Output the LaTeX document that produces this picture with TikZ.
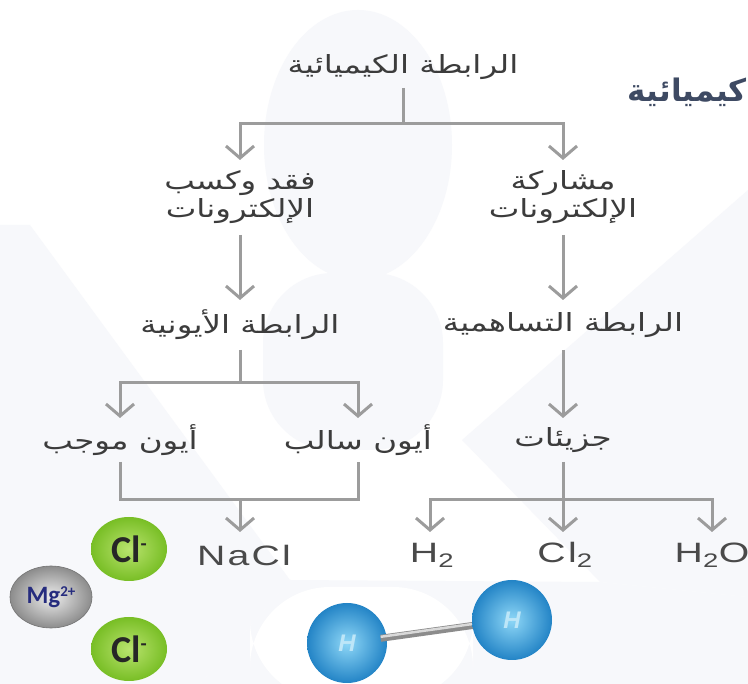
\documentclass[tikz,border=0pt]{standalone}
\usepackage{fontspec}
\usetikzlibrary{arrows.meta,shapes.geometric,calc}
\TeXXeTstate=1
\newfontfamily\arab[Script=Arabic,FakeStretch=1.3]{DejaVu Sans}
\newfontfamily\arabhead[Script=Arabic]{DejaVu Sans}
\newfontfamily\latwide[FakeStretch=1.4,LetterSpace=8]{Liberation Sans}
\newfontfamily\ionfont{Carlito}
\newfontfamily\hfont{Liberation Sans}

\definecolor{linegray}{HTML}{9C9C9C}
\definecolor{textgray}{HTML}{3C3C3C}
\definecolor{latgray}{HTML}{4A4A4A}
\definecolor{headblue}{HTML}{3E4A63}
\definecolor{pale}{HTML}{F7F8FB}
\definecolor{clin}{HTML}{B9E36E}
\definecolor{clout}{HTML}{78BE25}
\definecolor{mgin}{HTML}{EDEDED}
\definecolor{mgout}{HTML}{8C8C8C}
\definecolor{mgtext}{HTML}{262C7E}
\definecolor{hin}{HTML}{8ED7F7}
\definecolor{hout}{HTML}{2384C6}
\definecolor{hletter}{HTML}{BDE6F8}

\begin{document}
\begin{tikzpicture}[x=1pt,y=-1pt,
  conn/.style={draw=linegray,line width=3pt},
  arr/.style={conn,-{Straight Barb[length=12pt,width=28pt]}},
  arlabel/.style={font=\arab\fontsize{25}{28}\selectfont,text=textgray,
    inner sep=0pt,outer sep=0pt,align=center},
  latlabel/.style={font=\latwide\fontsize{28}{30}\selectfont,text=latgray,
    inner sep=0pt,outer sep=0pt},
  clion/.style={ellipse,minimum width=76pt,minimum height=64pt,inner sep=0pt,
    shade,inner color=clin,outer color=clout,
    font=\ionfont\bfseries\fontsize{38}{38}\selectfont,text=black!85},
  hatom/.style={ellipse,minimum width=80pt,minimum height=80pt,inner sep=0pt,
    shade,inner color=hin,outer color=hout,
    font=\hfont\bfseries\itshape\fontsize{24}{24}\selectfont,text=hletter}]

\useasboundingbox (0,0) rectangle (748,684);
\fill[white] (0,0) rectangle (748,684);

% faint watermark shapes in the background
\fill[pale] (358,145) ellipse [x radius=94,y radius=135];
\fill[pale,rounded corners=70pt] (263,450) -- (263,273) -- (443,273) -- (443,450) -- cycle;
\fill[pale] (0,225) -- (30,225) -- (290,580) -- (200,684) -- (0,684) -- cycle;
\fill[pale] (748,190) -- (462,440) -- (600,582) -- (748,597) -- cycle;
\fill[pale] (200,684) -- (290,580) -- (600,582) -- (748,597) -- (748,684) -- cycle;
\fill[white,rounded corners=80pt] (250,700) -- (250,587) -- (473,587) -- (473,700) -- cycle;

% heading fragment at the right edge
\node[font=\arabhead\bfseries\fontsize{31}{33}\selectfont,text=headblue,
  anchor=east,inner sep=0pt] (head) at (747,92) {\beginR كيميائية\endR};

% labels of the chart
\node[arlabel,minimum height=42pt] (title) at (403,67) {\beginR الرابطة الكيميائية\endR};
\node[arlabel,minimum height=75pt] (lossgain) at (240,197.5)
  {\beginR فقد وكسب\endR\\\beginR الإلكترونات\endR};
\node[arlabel,minimum height=75pt] (share) at (563,197.5)
  {\beginR مشاركة\endR\\\beginR الإلكترونات\endR};
\node[arlabel,minimum height=50pt] (ionic) at (240,325) {\beginR الرابطة الأيونية\endR};
\node[arlabel,minimum height=50pt] (covalent) at (563,325) {\beginR الرابطة التساهمية\endR};
\node[arlabel,minimum height=44pt] (pos) at (120,440) {\beginR أيون موجب\endR};
\node[arlabel,minimum height=44pt] (neg) at (358,440) {\beginR أيون سالب\endR};
\node[arlabel,minimum height=44pt] (molecules) at (563,440) {\beginR جزيئات\endR};

\node[latlabel,minimum height=46pt] (nacl) at (244,555) {NaCl};
\node[latlabel,minimum height=46pt] (h2) at (432,555) {H\textsubscript{2}};
\node[latlabel,minimum height=46pt] (cl2) at (565,555) {Cl\textsubscript{2}};
\node[latlabel,minimum height=46pt] (h2o) at (712,555) {H\textsubscript{2}O};

% junctions
\coordinate (j1) at (403,124);
\coordinate (j2) at (240,383);
\coordinate (j3) at (240,500);
\coordinate (j4) at (563,500);

% connectors
\draw[conn] (title.south) -- (j1);
\draw[arr] (j1) -| (lossgain.north);
\draw[arr] (j1) -| (share.north);
\draw[arr] (lossgain.south) -- (ionic.north);
\draw[arr] (share.south) -- (covalent.north);
\draw[conn] (ionic.south) -- (j2);
\draw[arr] (j2) -| (pos.north);
\draw[arr] (j2) -| (neg.north);
\draw[arr] (covalent.south) -- (molecules.north);
\draw[conn] (pos.south) |- (j3) -| (neg.south);
\draw[arr] (j3) -- (j3 |- nacl.north);
\draw[arr] (molecules.south) -- (molecules.south |- cl2.north);
\draw[arr] (j4) -| ([xshift=-2pt]h2.north);
\draw[arr] (j4) -| (h2o.north);

% ions
\node[ellipse,minimum width=82pt,minimum height=62pt,inner sep=0pt,
  shade,inner color=mgin,outer color=mgout,draw=black!55,line width=0.6pt,
  font=\ionfont\bfseries\fontsize{25}{25}\selectfont,text=mgtext]
  (mg) at (51,597) {Mg\raisebox{7pt}{\fontsize{15}{15}\selectfont 2+}};
\node[clion] (cla) at (129,549) {Cl\raisebox{12pt}{\fontsize{20}{20}\selectfont -}};
\node[clion] (clb) at (129,649) {Cl\raisebox{12pt}{\fontsize{20}{20}\selectfont -}};

% hydrogen molecule
\coordinate (hb) at (512,620);
\node[hatom] (ha) at (347,643) {H};
\draw[line width=7pt,draw=black!45] ($(ha.center)!34pt!(hb)$) -- (hb);
\draw[line width=2.5pt,draw=black!15] ($(ha.center)!34pt!(hb)+(0,-1.5)$) -- ($(hb)+(0,-1.5)$);
\node[hatom] (hbn) at (hb) {H};
\end{tikzpicture}
\end{document}
